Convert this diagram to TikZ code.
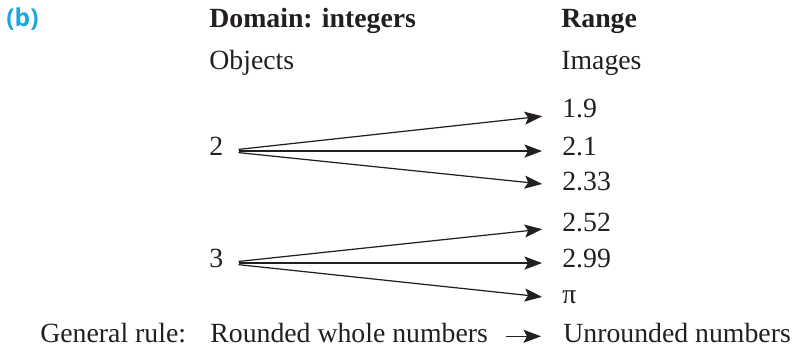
\documentclass[tikz,border=0pt]{standalone}
\usepackage{fontspec}
\setmainfont{Liberation Serif}
\newfontfamily\partfont{Open Sans}
\usepackage{xcolor}
\usepackage{tikz}
\usetikzlibrary{arrows.meta}
\definecolor{cyanx}{HTML}{1BA6E0}
\definecolor{inkx}{HTML}{231F20}
\tikzset{
  maparr/.style={-{Stealth[length=3.5mm,width=2.6mm,inset=0.7mm]},line width=0.7pt,inkx},
  txt/.style={anchor=base west,inner sep=0pt,text height=0.45em,text depth=0pt,
    font=\fontsize{15.8}{18}\selectfont,text=inkx},
  head/.style={txt,font=\fontsize{15.8}{18}\selectfont\bfseries},
  rule/.style={txt,text height=0.65em}
}

\begin{document}
\begin{tikzpicture}
\useasboundingbox (0,0) rectangle (16.06,-6.96);
% headings
\node[anchor=base west,inner sep=0pt,font=\partfont\bfseries\fontsize{14}{16}\selectfont,text=cyanx] (part) at (0.12,-0.53) {(b)};
\node[head] (domain) at (4.18,-0.56) {Domain: integers};
\node[head] (range) at (11.22,-0.56) {Range};
\node[txt] (objects) at (4.18,-1.40) {Objects};
\node[txt] (images) at (11.22,-1.40) {Images};
% objects
\node[txt] (two) at (4.18,-3.10) {2};
\node[txt] (three) at (4.18,-5.34) {3};
% images
\node[txt] (i19) at (11.24,-2.36) {1.9};
\node[txt] (i21) at (11.24,-3.10) {2.1};
\node[txt] (i233) at (11.24,-3.80) {2.33};
\node[txt] (i252) at (11.24,-4.62) {2.52};
\node[txt] (i299) at (11.24,-5.34) {2.99};
\node[txt] (ipi) at (11.24,-6.06) {π};
% general rule
\node[rule] (general) at (0.80,-6.84) {General rule:};
\node[rule] (rounded) at (4.20,-6.84) {Rounded whole numbers};
\node[rule] (unrounded) at (11.26,-6.84) {Unrounded numbers};
% mappings
\foreach \img in {i19,i21,i233}
  \draw[maparr,shorten <=0.3cm,shorten >=0.4cm] (two.east) -- (\img.west);
\foreach \img in {i252,i299,ipi}
  \draw[maparr,shorten <=0.3cm,shorten >=0.4cm] (three.east) -- (\img.west);
\draw[maparr,shorten <=0.36cm,shorten >=0.44cm] (rounded.east) -- (unrounded.west);
\end{tikzpicture}
\end{document}
